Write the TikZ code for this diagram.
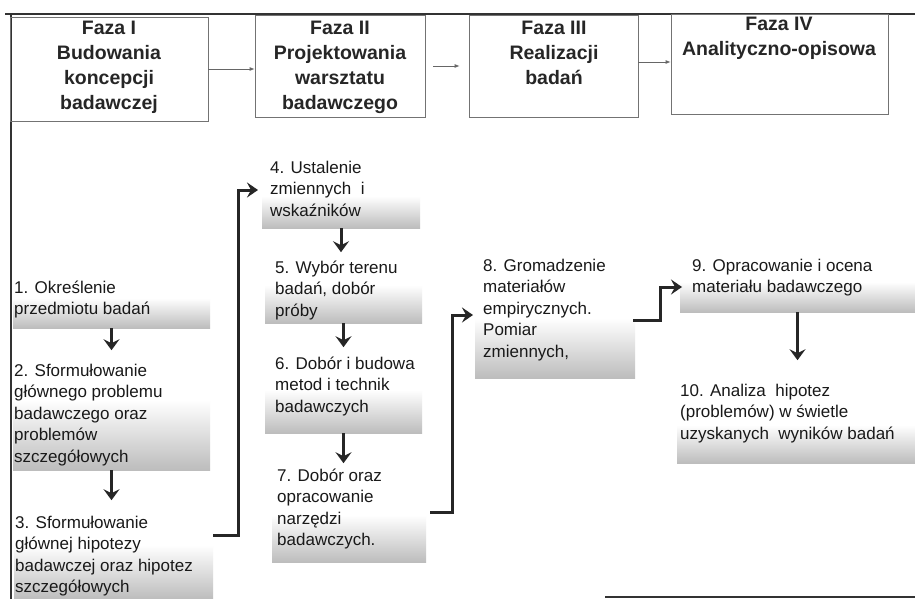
\documentclass[tikz,border=0pt]{standalone}
\usepackage{fontspec}
\setmainfont{Liberation Sans}
\usetikzlibrary{arrows.meta}
\begin{document}
\begin{tikzpicture}[x=1pt,y=-1pt,
  frame/.style={line width=1.6pt, draw=black!80},
  phasebox/.style={draw=black!55, line width=0.8pt, inner sep=0pt},
  phasetext/.style={align=center, anchor=base, inner sep=0pt,
    font=\fontsize{19.5}{25}\selectfont\bfseries, text=black!85},
  phaselink/.style={draw=black!60, line width=0.8pt, -{Latex[length=5pt,width=4pt]}},
  stepbox/.style={align=left, anchor=base west, inner sep=0pt,
    font=\fontsize{17}{21.5}\selectfont, text=black!90},
  stipple/.style={top color=white, bottom color=black!26, draw=none, inner sep=0pt},
  drop/.style={line width=3pt, draw=black!85,
    -{Stealth[length=11pt,width=16pt,inset=4pt]}},
  flow/.style={line width=3pt, draw=black!85,
    -{Stealth[length=11pt,width=15pt,inset=4pt]}}
]
\useasboundingbox (0,0) rectangle (915,599);
\fill[white] (0,0) rectangle (915,599);

% outer frame
\draw[frame] (5,14) -- (915,14);
\draw[frame] (11,14) -- (11,599);
\draw[frame] (605,597) -- (915,597);

% phase boxes
\node[phasebox, minimum width=198, minimum height=104] (p1) at (109,69) {};
\node[phasebox, minimum width=170, minimum height=102] (p2) at (340,66) {};
\node[phasebox, minimum width=169, minimum height=102] (p3) at (553.5,66) {};
\node[phasebox, minimum width=217, minimum height=100] (p4) at (779.5,64) {};

% titles, placed by the baseline of their last line
\node[phasetext] (t1) at (109,110) {Faza I\\Budowania\\koncepcji\\badawczej};
\node[phasetext] (t2) at (340,110) {Faza II\\Projektowania\\warsztatu\\badawczego};
\node[phasetext] (t3) at (554,85) {Faza III\\Realizacji\\badań};
\node[phasetext] (t4) at (779,56) {Faza IV\\Analityczno-opisowa};

\draw[phaselink] (p1.east) -- (p2.west |- p1.east);
\draw[phaselink] ([xshift=8pt]p2.east) -- ([xshift=-9pt]p3.west);
\draw[phaselink] ([yshift=4pt]p3.east) -- ([yshift=2pt]p4.west);

% stippled bands under the steps
\node[stipple, minimum width=197, minimum height=30] (h1) at (111.5,313) {};
\node[stipple, minimum width=197, minimum height=70] (h2) at (111.5,435) {};
\node[stipple, minimum width=199, minimum height=54] (h3) at (113.5,572) {};
\node[stipple, minimum width=158, minimum height=32] (h4) at (341,212) {};
\node[stipple, minimum width=157, minimum height=38] (h5) at (343.5,304) {};
\node[stipple, minimum width=157, minimum height=43] (h6) at (343.5,411.5) {};
\node[stipple, minimum width=154, minimum height=47] (h7) at (349,538.5) {};
\node[stipple, minimum width=160, minimum height=60] (h8) at (555,348) {};
\node[stipple, minimum width=235, minimum height=30] (h9) at (797.5,297) {};
\node[stipple, minimum width=238, minimum height=38] (h10) at (796,444) {};

% steps, placed by the baseline of their last line
\node[stepbox] (s1) at (14,314.5) {1. Określenie\\przedmiotu badań};
\node[stepbox] (s2) at (14,462) {2. Sformułowanie\\głównego problemu\\badawczego oraz\\problemów\\szczegółowych};
\node[stepbox] (s3) at (15,592.5) {3. Sformułowanie\\głównej hipotezy\\badawczej oraz hipotez\\szczegółowych};
\node[stepbox] (s4) at (270,216) {4. Ustalenie\\zmiennych\ \ i\\wskaźników};
\node[stepbox] (s5) at (275,316) {5. Wybór terenu\\badań, dobór\\próby};
\node[stepbox] (s6) at (275,412) {6. Dobór i budowa\\metod i technik\\badawczych};
\node[stepbox] (s7) at (277,545.5) {7. Dobór oraz\\opracowanie\\narzędzi\\badawczych.};
\node[stepbox] (s8) at (483,357) {8. Gromadzenie\\materiałów\\empirycznych.\\Pomiar\\zmiennych,};
\node[stepbox] (s9) at (692,292.5) {9. Opracowanie i ocena\\materiału badawczego};
\node[stepbox] (s10) at (680,439) {10. Analiza\ \ hipotez\\(problemów) w świetle\\uzyskanych\ \ wyników badań};

% arrows inside the phases
\draw[drop] (h1.south) -- ++(0,22);
\draw[drop] (h2.south) -- ++(0,30);
\draw[drop] (h4.south) -- ++(0,24);
\draw[drop] (h5.south) -- ++(0,24);
\draw[drop] (h6.south) -- ++(0,30);
\draw[drop] (h9.south) -- ++(0,48);

% arrows between the phases
\coordinate (o3) at (213,535);
\coordinate (i4) at (258,190);
\coordinate (o7) at (430,512);
\coordinate (i8) at (473,315);
\coordinate (o8) at (633,320);
\coordinate (i9) at (682,287);
\draw[flow] (o3) -- (238,535) |- (i4);
\draw[flow] (o7) -- (452,512) |- (i8);
\draw[flow] (o8) -- (660,320) |- (i9);
\end{tikzpicture}
\end{document}
